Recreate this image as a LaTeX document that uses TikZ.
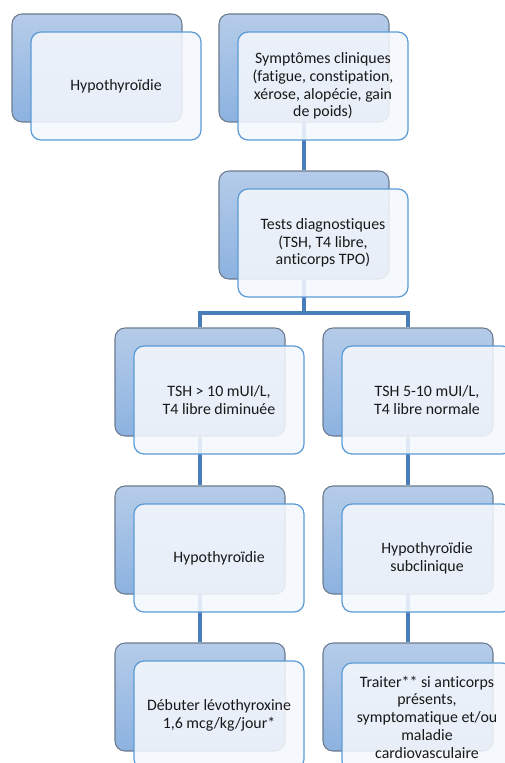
\documentclass[tikz,border=0pt]{standalone}
\usepackage{fontspec}
\setmainfont[Ligatures={NoCommon}]{Carlito}
\definecolor{backtop}{HTML}{B5CCE9}
\definecolor{backbot}{HTML}{8CB2E0}
\definecolor{backline}{HTML}{6B7B8D}
\definecolor{frontfill}{HTML}{F4F7FC}
\definecolor{frontline}{HTML}{5B9BD5}
\definecolor{conn}{HTML}{4A7EBB}
\begin{document}
\begin{tikzpicture}[x=0.75pt,y=-0.75pt,
  backbox/.style={rectangle, rounded corners=7.5pt, minimum width=127.5pt, minimum height=81pt,
    inner sep=0pt, draw=backline, line width=0.8pt, top color=backtop, bottom color=backbot},
  frontbox/.style={rectangle, rounded corners=7.5pt, minimum width=127.5pt, minimum height=81pt,
    inner sep=0pt, draw=frontline, line width=0.9pt, fill=frontfill, fill opacity=0.88, text opacity=1,
    align=center, text=black!90, font=\fontsize{11.9}{13.3}\selectfont},
  link/.style={draw=conn, line width=2.3pt}]
\useasboundingbox (0,0) rectangle (505,763);
\clip (0,0) rectangle (505,763);
% back boxes
\node[backbox] (b1) at (97,68) {};
\node[backbox] (b2) at (304,68) {};
\node[backbox] (b3) at (304,225) {};
\node[backbox] (b4l) at (200,382) {};
\node[backbox] (b4r) at (408,382) {};
\node[backbox] (b5l) at (200,540) {};
\node[backbox] (b5r) at (408,540) {};
\node[backbox] (b6l) at (200,697) {};
\node[backbox] (b6r) at (408,697) {};
% connectors
\coordinate (fork) at (304,313);
\draw[link] (b2.south) -- (b3.north);
\draw[link] (b3.south) -- (fork);
\draw[link] (b4l.north) |- (fork) -| (b4r.north);
\draw[link] (b4l.south) -- (b5l.north);
\draw[link] (b5l.south) -- (b6l.north);
\draw[link] (b4r.south) -- (b5r.north);
\draw[link] (b5r.south) -- (b6r.north);
% front boxes
\node[frontbox] (f1) at (116,86) {Hypothyroïdie};
\node[frontbox] (f2) at (323,86) {Symptômes cliniques\\(fatigue, constipation,\\xérose, alopécie, gain\\de poids)};
\node[frontbox] (f3) at (323,243) {Tests diagnostiques\\(TSH, T4 libre,\\anticorps TPO)};
\node[frontbox] (f4l) at (219,400) {TSH > 10 mUI/L,\\T4 libre diminuée};
\node[frontbox] (f4r) at (427,400) {TSH 5-10 mUI/L,\\T4 libre normale};
\node[frontbox] (f5l) at (219,558) {Hypothyroïdie};
\node[frontbox] (f5r) at (427,558) {Hypothyroïdie\\subclinique};
\node[frontbox] (f6l) at (219,715) {Débuter lévothyroxine\\1,6 mcg/kg/jour*};
\node[frontbox] (f6r) at (427,717) {Traiter** si anticorps\\présents,\\symptomatique et/ou\\maladie\\cardiovasculaire};
\end{tikzpicture}
\end{document}
